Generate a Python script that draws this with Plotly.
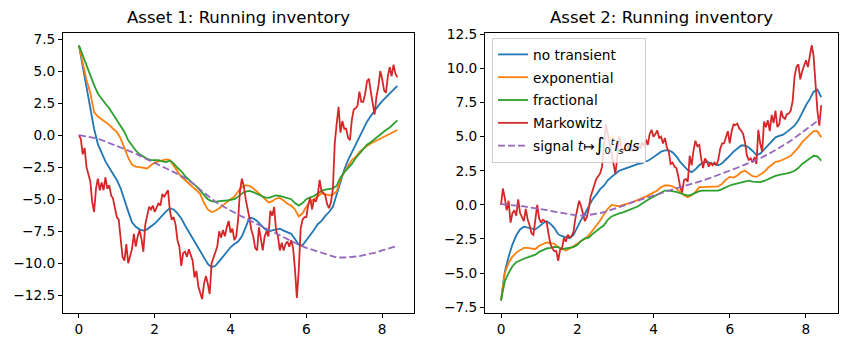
import plotly.graph_objects as go
from plotly.subplots import make_subplots

# time grids: smooth curves every 0.1, signal every 0.2, Markowitz every 0.05
DT_SMOOTH = 0.1
DT_SIGNAL = 0.2
DT_MARKOWITZ = 0.05

SERIES_NAMES = ["no transient", "exponential", "fractional", "Markowitz"]
SIGNAL_NAME = (
    "signal <i>t</i>↦<span style='font-size:19px'>∫</span>"
    "<sub>0</sub><sup><i>t</i></sup><i>I</i><sub><i>s</i></sub><i>ds</i>"
)
TITLES = ["Asset 1: Running inventory", "Asset 2: Running inventory"]

# ---- Asset 1 ----
asset1_no_transient = [
    7.0, 5.4, 3.8, 2.2, 0.5, -0.7, -1.45, -2.05, -2.55, -3.0,
    -3.5, -4.15, -5.1, -5.95, -6.8, -7.15, -7.35, -7.45, -7.35, -7.15,
    -6.9, -6.6, -6.25, -5.95, -5.7, -5.8, -6.1, -6.5, -7.05, -7.55,
    -8.05, -8.55, -9.1, -9.6, -10.05, -10.3, -10.2, -9.85, -9.5, -9.1,
    -8.75, -8.5, -8.3, -7.9, -7.1, -6.45, -6.5, -6.7, -7.0, -7.3,
    -7.5, -7.45, -7.35, -7.3, -7.45, -7.55, -7.7, -8.1, -8.55, -8.6,
    -8.2, -7.85, -7.4, -6.95, -6.7, -6.3, -6.0, -5.6, -4.6, -3.7,
    -2.7, -1.95, -1.35, -0.7, -0.1, 0.5, 1.05, 1.5, 1.95, 2.3,
    2.65, 2.95, 3.2, 3.5, 3.85,
]
asset1_exponential = [
    7.0, 5.5, 4.3, 3.3, 1.8, 1.45, 1.25, 1.0, 0.8, 0.5,
    0.25, -0.25, -1.0, -1.75, -2.3, -2.45, -2.5, -2.55, -2.6, -2.35,
    -2.15, -2.05, -2.0, -1.9, -1.95, -2.4, -2.85, -3.25, -3.5, -3.8,
    -4.05, -4.3, -4.6, -5.3, -5.8, -6.0, -5.9, -5.7, -5.5, -5.25,
    -5.0, -4.8, -4.4, -4.05, -3.9, -3.95, -4.15, -4.4, -4.65, -4.95,
    -5.25, -5.15, -4.95, -4.9, -5.1, -5.35, -5.5, -5.8, -6.35, -6.1,
    -5.6, -5.25, -5.0, -4.75, -4.55, -4.6, -4.7, -4.65, -4.4, -3.4,
    -2.85, -2.4, -1.95, -1.7, -1.3, -1.05, -0.85, -0.65, -0.5, -0.4,
    -0.2, -0.1, 0.05, 0.2, 0.4,
]
asset1_fractional = [
    7.0, 6.2, 5.4, 4.6, 3.9, 3.25, 2.8, 2.45, 2.1, 1.65,
    1.2, 0.7, 0.25, -0.4, -0.85, -1.2, -1.5, -1.7, -1.85, -1.95,
    -1.95, -1.95, -2.05, -2.1, -2.0, -2.2, -2.55, -2.8, -3.2, -3.5,
    -3.75, -4.0, -4.35, -4.7, -5.0, -5.15, -5.2, -5.15, -5.15, -5.1,
    -5.05, -5.0, -4.8, -4.55, -4.4, -4.35, -4.45, -4.6, -4.75, -4.85,
    -4.9, -4.8, -4.7, -4.75, -4.85, -4.95, -5.0, -5.3, -5.5, -5.3,
    -5.0, -4.85, -4.75, -4.55, -4.35, -4.25, -4.2, -4.15, -3.95, -3.3,
    -2.9, -2.55, -2.25, -1.8, -1.45, -1.05, -0.75, -0.55, -0.3, -0.1,
    0.15, 0.4, 0.6, 0.85, 1.15,
]
asset1_markowitz = [
    0.0, -0.3, -1.5, -1.0, -2.5, -3.0, -3.6, -5.2, -6.0, -4.2,
    -3.4, -4.3, -3.7, -4.3, -3.3, -4.2, -3.9, -4.7, -4.95, -5.7,
    -6.4, -6.6, -7.9, -9.5, -9.8, -8.5, -10.0, -9.4, -8.9, -7.7,
    -8.7, -7.9, -7.4, -8.1, -9.1, -7.0, -6.2, -5.6, -5.8, -5.5,
    -6.0, -5.6, -5.3, -5.5, -4.6, -4.8, -4.5, -4.3, -5.9, -6.6,
    -6.4, -7.0, -8.2, -8.7, -10.2, -9.2, -9.1, -9.5, -8.9, -9.4,
    -9.8, -11.1, -10.6, -11.8, -12.4, -12.8, -11.6, -11.0, -11.6, -12.4,
    -10.0, -9.6, -9.2, -8.7, -7.5, -8.0, -7.4, -7.9, -7.2, -6.7,
    -7.6, -7.3, -8.2, -7.9, -6.6, -4.3, -3.4, -4.0, -5.0, -5.7,
    -6.5, -7.4, -7.9, -8.8, -9.0, -7.2, -8.3, -9.0, -7.9, -7.5,
    -7.9, -5.9, -6.3, -5.6, -7.4, -7.9, -9.0, -8.4, -9.0, -8.5,
    -8.3, -8.7, -8.2, -8.8, -10.5, -12.7, -10.5, -7.3, -6.6, -6.4,
    -6.4, -5.4, -4.9, -5.8, -5.0, -5.2, -4.7, -3.5, -4.4, -4.5,
    -4.7, -5.4, -5.7, -5.2, -4.2, -0.6, 0.9, 2.2, 0.2, 1.1,
    0.5, 0.5, -0.2, -0.4, 1.2, 2.0, 2.1, 2.3, 3.4, 2.6,
    2.6, 3.2, 4.2, 4.4, 3.4, 2.6, 1.6, 3.0, 3.8, 5.0,
    4.4, 3.5, 3.3, 4.6, 5.3, 4.6, 5.5, 4.8, 4.5,
]
asset1_signal = [
    0.0, -0.1, -0.22, -0.38, -0.6, -0.82, -1.07, -1.32, -1.6, -1.88,
    -2.15, -2.45, -2.75, -3.02, -3.35, -3.75, -4.25, -4.75, -5.2, -5.55,
    -5.9, -6.2, -6.5, -6.8, -7.05, -7.35, -7.65, -7.95, -8.25, -8.55,
    -8.8, -9.0, -9.15, -9.35, -9.55, -9.55, -9.52, -9.45, -9.3, -9.18,
    -9.0, -8.82, -8.65,
]

# ---- Asset 2 ----
asset2_no_transient = [
    -7.0, -4.9, -3.8, -2.9, -2.25, -1.8, -1.6, -1.65, -1.75, -1.8,
    -1.6, -1.35, -1.2, -1.4, -1.7, -2.15, -2.3, -2.35, -2.45, -2.2,
    -1.6, -1.1, -0.65, -0.1, 0.4, 0.75, 1.15, 1.4, 1.8, 2.05,
    2.25, 2.5, 2.6, 2.7, 2.8, 2.95, 3.0, 3.05, 3.15, 3.3,
    3.5, 3.7, 3.9, 4.0, 4.0, 3.85, 3.55, 3.15, 2.85, 2.55,
    2.4, 2.6, 2.9, 3.1, 3.15, 3.05, 2.95, 2.9, 3.05, 3.3,
    3.6, 3.9, 4.15, 4.35, 4.35, 4.2, 3.95, 3.65, 3.75, 4.05,
    4.4, 4.7, 4.95, 5.05, 5.15, 5.35, 5.6, 5.8, 6.2, 6.8,
    7.3, 7.75, 8.3, 8.45, 7.9,
]
asset2_exponential = [
    -7.0, -5.0, -4.25, -3.8, -3.5, -3.3, -3.15, -3.15, -3.2, -3.25,
    -3.0, -2.85, -2.75, -2.8, -2.85, -3.1, -3.25, -3.35, -3.2, -3.05,
    -2.85, -2.65, -2.5, -2.25, -1.9, -1.5, -1.15, -0.7, -0.3, 0.0,
    -0.05, -0.1, 0.0, 0.05, 0.15, 0.25, 0.35, 0.45, 0.6, 0.75,
    0.9, 1.05, 1.3, 1.42, 1.42, 1.35, 1.2, 0.95, 0.7, 0.55,
    0.7, 0.95, 1.3, 1.3, 1.3, 1.3, 1.3, 1.35, 1.55, 1.85,
    2.05, 2.0, 2.15, 2.4, 2.5, 2.3, 2.1, 2.05, 2.2, 2.4,
    2.7, 2.95, 3.15, 3.2, 3.3, 3.45, 3.6, 3.9, 4.2, 4.6,
    4.85, 5.15, 5.4, 5.4, 4.95,
]
asset2_fractional = [
    -7.0, -5.6, -5.0, -4.5, -4.2, -4.05, -3.95, -3.85, -3.75, -3.65,
    -3.45, -3.3, -3.2, -3.15, -3.08, -3.1, -3.25, -3.2, -3.15, -3.1,
    -2.95, -2.65, -2.45, -2.4, -2.15, -1.9, -1.7, -1.5, -1.1, -0.85,
    -0.72, -0.62, -0.55, -0.45, -0.35, -0.25, -0.1, 0.1, 0.3, 0.45,
    0.6, 0.75, 0.95, 1.05, 1.05, 1.02, 0.95, 0.85, 0.75, 0.68,
    0.75, 0.9, 1.0, 1.05, 1.05, 1.05, 1.05, 1.05, 1.15, 1.3,
    1.42, 1.5, 1.58, 1.65, 1.72, 1.78, 1.7, 1.66, 1.66, 1.75,
    1.88, 2.0, 2.12, 2.2, 2.23, 2.3, 2.38, 2.5, 2.7, 3.0,
    3.2, 3.4, 3.6, 3.55, 3.25,
]
asset2_markowitz = [
    0.0, 1.2, 0.5, -0.4, 0.3, -1.3, -0.6, -0.4, -0.8, 0.4,
    -0.6, -0.9, -1.2, -0.3, -1.1, -1.5, -2.1, -2.2, -1.2, 0.0,
    -1.0, -1.3, -1.1, -1.2, -1.3, -2.2, -2.9, -3.2, -3.4, -3.4,
    -4.1, -3.3, -3.2, -2.4, -2.7, -2.2, -2.4, -2.3, -2.0, -1.0,
    -0.2, 0.3, -0.1, -0.7, -1.2, -0.9, -0.3, 0.6, 1.1, 1.5,
    1.9, 2.1, 2.3, 2.8, 4.5, 5.9, 5.2, 4.5, 3.8, 3.0,
    2.3, 3.4, 5.0, 4.3, 3.8, 4.3, 4.6, 4.0, 4.4, 3.9,
    4.2, 4.0, 4.4, 4.1, 4.6, 4.3, 4.8, 4.4, 5.2, 5.5,
    5.0, 5.2, 5.45, 4.9, 5.0, 4.5, 4.9, 4.2, 3.9, 3.0,
    3.1, 2.8, 2.7, 2.1, 1.3, 0.9, 1.8, 1.9, 1.7, 3.6,
    2.9, 4.0, 4.7, 4.3, 4.4, 3.4, 2.7, 3.4, 3.2, 2.8,
    3.1, 2.9, 3.1, 2.9, 3.3, 4.1, 4.5, 4.5, 5.0, 5.4,
    4.5, 5.4, 5.9, 5.85, 5.95, 5.6, 5.45, 5.2, 4.6, 3.6,
    3.3, 3.4, 3.1, 3.5, 3.0, 5.5, 4.5, 3.9, 6.1, 5.7,
    6.2, 5.4, 6.6, 6.0, 6.9, 5.7, 5.9, 6.9, 6.4, 6.3,
    6.65, 6.7, 6.9, 7.6, 9.4, 10.1, 10.3, 9.2, 9.8, 10.3,
    10.6, 10.1, 10.8, 11.7, 10.9, 8.7, 6.9, 5.8, 7.3,
]
asset2_signal = [
    0.05, 0.02, -0.05, -0.12, -0.2, -0.28, -0.38, -0.5, -0.6, -0.72,
    -0.78, -0.79, -0.72, -0.6, -0.45, -0.28, -0.08, 0.15, 0.32, 0.5,
    0.65, 0.85, 1.05, 1.2, 1.35, 1.5, 1.7, 1.88, 2.08, 2.28,
    2.5, 2.72, 2.95, 3.18, 3.42, 3.7, 4.0, 4.35, 4.7, 5.1,
    5.5, 5.95, 6.35,
]

x_ticks = [0, 2, 4, 6, 8]
asset1_y_ticks = [-12.5, -10.0, -7.5, -5.0, -2.5, 0.0, 2.5, 5.0, 7.5]
asset2_y_ticks = [-7.5, -5.0, -2.5, 0.0, 2.5, 5.0, 7.5, 10.0, 12.5]

COLOURS = ["#1f77b4", "#ff7f0e", "#2ca02c", "#d62728"]
SIGNAL_COLOUR = "#9467bd"
FONT = "DejaVu Sans"
TICK_SIZE = 13.7
TITLE_SIZE = 16.5

assets = [
    ([asset1_no_transient, asset1_exponential, asset1_fractional], asset1_markowitz, asset1_signal),
    ([asset2_no_transient, asset2_exponential, asset2_fractional], asset2_markowitz, asset2_signal),
]

fig = make_subplots(rows=1, cols=2)

for col, (smooth, markowitz, signal) in enumerate(assets, start=1):
    show = col == 2
    for name, colour, ys in zip(SERIES_NAMES[:3], COLOURS[:3], smooth):
        fig.add_trace(
            go.Scatter(y=ys, x0=0, dx=DT_SMOOTH, mode="lines", name=name, legendgroup=name,
                       line={"color": colour, "width": 1.8}, showlegend=show),
            row=1, col=col,
        )
    fig.add_trace(
        go.Scatter(y=markowitz, x0=0, dx=DT_MARKOWITZ, mode="lines", name=SERIES_NAMES[3],
                   legendgroup=SERIES_NAMES[3],
                   line={"color": COLOURS[3], "width": 1.8}, showlegend=show),
        row=1, col=col,
    )
    fig.add_trace(
        go.Scatter(y=signal, x0=0, dx=DT_SIGNAL, mode="lines", name=SIGNAL_NAME, legendgroup="signal",
                   line={"color": SIGNAL_COLOUR, "width": 1.8, "dash": "7px,3px"}, showlegend=show),
        row=1, col=col,
    )

axis_style = dict(
    showline=True, mirror=True, linecolor="black", linewidth=1,
    ticks="outside", ticklen=4, tickwidth=1, tickcolor="black",
    showgrid=False, zeroline=False, automargin=False,
    tickfont={"family": FONT, "size": TICK_SIZE, "color": "black"},
)

W, H = 847, 346
y_domain = [1 - 313 / H, 1 - 33 / H]
fig.update_xaxes(**axis_style, tickvals=x_ticks, range=[-0.42, 8.84])
fig.update_yaxes(**axis_style, tickformat=".1f")
fig.update_layout(
    xaxis={"domain": [63 / W, 414 / W]},
    xaxis2={"domain": [485 / W, 838 / W]},
    yaxis={"domain": y_domain, "tickvals": asset1_y_ticks, "range": [-13.88, 7.97]},
    yaxis2={"domain": y_domain, "tickvals": asset2_y_ticks, "range": [-7.93, 12.6]},
)

for i, title in enumerate(TITLES):
    left, right = (63, 414) if i == 0 else (485, 838)
    fig.add_annotation(
        text=title, x=(left + right) / 2 / W, y=1 - 17 / H, xref="paper", yref="paper",
        xanchor="center", yanchor="middle", showarrow=False,
        font={"family": FONT, "size": TITLE_SIZE, "color": "black"},
    )

fig.update_layout(
    width=W, height=H,
    margin={"l": 0, "r": 0, "t": 0, "b": 0},
    plot_bgcolor="white", paper_bgcolor="white",
    font={"family": FONT, "size": TICK_SIZE, "color": "black"},
    legend={
        "x": 492 / W, "y": 1 - 38 / H, "xanchor": "left", "yanchor": "top",
        "bgcolor": "rgba(255,255,255,0.8)", "bordercolor": "#cccccc", "borderwidth": 1,
        "font": {"family": FONT, "size": TICK_SIZE, "color": "black"},
        "itemwidth": 30, "tracegroupgap": 2,
    },
)

# the browser's default 8px body margin would shift the whole figure
fig.write_html(
    "out.html",
    config={"displayModeBar": False},
    post_script="document.body.style.margin = '0';",
)
